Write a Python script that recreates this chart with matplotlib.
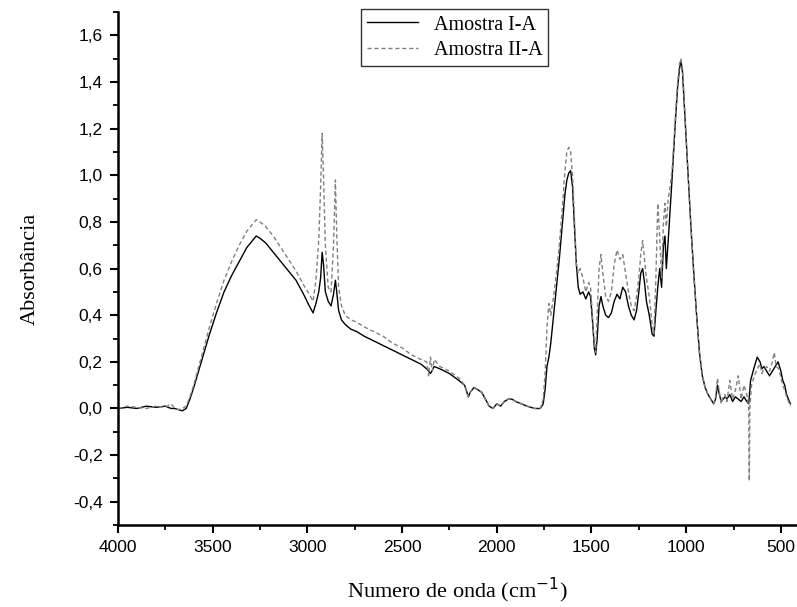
import matplotlib
matplotlib.use("Agg")
import matplotlib.pyplot as plt
from matplotlib.ticker import MultipleLocator, FuncFormatter

# ---------------------------------------------------------- data
wn_I = [4000, 3950, 3900, 3850, 3800, 3750, 3720, 3700, 3680, 3660,
        3640, 3620, 3600, 3560, 3520, 3480, 3440, 3400, 3360, 3320,
        3290, 3270, 3250, 3220, 3180, 3140, 3100, 3060, 3020, 2990,
        2970, 2955, 2940, 2930, 2922, 2915, 2905, 2890, 2875, 2862,
        2852, 2845, 2835, 2820, 2800, 2770, 2740, 2700, 2650, 2600,
        2550, 2500, 2450, 2400, 2370, 2350, 2330, 2300, 2250, 2200,
        2170, 2150, 2140, 2120, 2100, 2080, 2060, 2040, 2020, 2000,
        1980, 1960, 1940, 1920, 1900, 1870, 1840, 1800, 1770, 1755,
        1745, 1735, 1725, 1715, 1700, 1685, 1670, 1655, 1640, 1630,
        1620, 1610, 1600, 1590, 1580, 1570, 1560, 1545, 1530, 1515,
        1505, 1495, 1485, 1478, 1470, 1460, 1450, 1440, 1425, 1410,
        1395, 1380, 1365, 1350, 1335, 1320, 1305, 1290, 1275, 1262,
        1250, 1240, 1230, 1220, 1210, 1195, 1180, 1170, 1160, 1150,
        1140, 1130, 1120, 1112, 1105, 1095, 1085, 1075, 1065, 1055,
        1045, 1035, 1028, 1020, 1010, 1000, 990, 975, 960, 945,
        930, 915, 900, 885, 870, 855, 845, 835, 825, 815,
        805, 795, 785, 770, 755, 740, 725, 710, 695, 680,
        670, 660, 650, 640, 625, 610, 600, 590, 575, 560,
        545, 530, 515, 500, 490, 480, 470, 460, 450]
abs_I = [0.00, 0.005, 0.00, 0.01, 0.005, 0.01, 0.00, 0.00, -0.005, -0.01,
         0.00, 0.04, 0.09, 0.20, 0.31, 0.41, 0.50, 0.57, 0.63, 0.69,
         0.72, 0.74, 0.73, 0.71, 0.67, 0.63, 0.59, 0.55, 0.49, 0.44,
         0.41, 0.45, 0.50, 0.56, 0.67, 0.62, 0.50, 0.46, 0.44, 0.49,
         0.55, 0.50, 0.42, 0.38, 0.36, 0.34, 0.33, 0.31, 0.29, 0.27,
         0.25, 0.23, 0.21, 0.19, 0.17, 0.15, 0.18, 0.17, 0.15, 0.12,
         0.10, 0.05, 0.07, 0.09, 0.08, 0.07, 0.04, 0.01, 0.00, 0.02,
         0.01, 0.03, 0.04, 0.04, 0.03, 0.02, 0.01, 0.00, 0.00, 0.02,
         0.08, 0.18, 0.22, 0.28, 0.40, 0.52, 0.64, 0.78, 0.92, 0.98,
         1.01, 1.02, 0.95, 0.78, 0.62, 0.52, 0.49, 0.50, 0.47, 0.50,
         0.48, 0.38, 0.26, 0.23, 0.30, 0.44, 0.48, 0.44, 0.40, 0.39,
         0.41, 0.46, 0.49, 0.47, 0.52, 0.50, 0.44, 0.40, 0.38, 0.42,
         0.50, 0.58, 0.60, 0.54, 0.46, 0.40, 0.32, 0.31, 0.42, 0.52,
         0.60, 0.52, 0.70, 0.74, 0.60, 0.72, 0.85, 0.98, 1.12, 1.26,
         1.38, 1.46, 1.49, 1.45, 1.30, 1.15, 1.00, 0.78, 0.58, 0.40,
         0.24, 0.14, 0.09, 0.06, 0.04, 0.02, 0.04, 0.10, 0.06, 0.03,
         0.04, 0.05, 0.04, 0.06, 0.03, 0.05, 0.04, 0.03, 0.05, 0.03,
         0.02, 0.12, 0.15, 0.18, 0.22, 0.20, 0.17, 0.18, 0.16, 0.14,
         0.16, 0.18, 0.20, 0.16, 0.12, 0.10, 0.06, 0.04, 0.02]

wn_II = [4000, 3950, 3900, 3850, 3800, 3750, 3720, 3700, 3680, 3660,
         3640, 3620, 3600, 3560, 3520, 3480, 3440, 3400, 3360, 3320,
         3290, 3270, 3250, 3220, 3180, 3140, 3100, 3060, 3020, 2990,
         2970, 2955, 2940, 2930, 2922, 2915, 2905, 2890, 2875, 2862,
         2852, 2845, 2835, 2820, 2800, 2770, 2740, 2700, 2650, 2600,
         2550, 2500, 2450, 2400, 2370, 2360, 2350, 2340, 2330, 2310,
         2300, 2250, 2200, 2170, 2150, 2140, 2120, 2100, 2080, 2060,
         2040, 2020, 2000, 1980, 1960, 1940, 1920, 1900, 1870, 1840,
         1800, 1770, 1755, 1745, 1735, 1725, 1715, 1700, 1685, 1670,
         1655, 1640, 1630, 1620, 1610, 1600, 1590, 1580, 1570, 1560,
         1545, 1530, 1515, 1505, 1495, 1485, 1478, 1470, 1460, 1450,
         1440, 1425, 1410, 1395, 1380, 1365, 1350, 1335, 1320, 1305,
         1290, 1275, 1262, 1250, 1240, 1230, 1220, 1210, 1195, 1180,
         1170, 1160, 1150, 1140, 1130, 1120, 1112, 1105, 1095, 1085,
         1075, 1065, 1055, 1045, 1035, 1028, 1020, 1010, 1000, 990,
         975, 960, 945, 930, 915, 900, 885, 870, 855, 845,
         835, 825, 815, 805, 795, 785, 770, 755, 740, 725,
         710, 695, 680, 670, 667, 664, 655, 640, 625, 610,
         600, 590, 575, 560, 545, 535, 525, 510, 500, 490,
         480, 470, 460, 450]
abs_II = [0.00, 0.01, 0.005, 0.00, 0.01, 0.005, 0.02, 0.00, -0.005, 0.00,
          0.01, 0.05, 0.10, 0.22, 0.34, 0.45, 0.55, 0.63, 0.70, 0.76,
          0.79, 0.81, 0.80, 0.78, 0.74, 0.69, 0.64, 0.59, 0.53, 0.49,
          0.46, 0.55, 0.72, 0.95, 1.18, 1.00, 0.70, 0.52, 0.50, 0.70,
          0.98, 0.75, 0.52, 0.44, 0.40, 0.38, 0.37, 0.35, 0.33, 0.31,
          0.28, 0.26, 0.23, 0.21, 0.20, 0.14, 0.22, 0.16, 0.21, 0.19,
          0.18, 0.16, 0.13, 0.10, 0.05, 0.07, 0.09, 0.08, 0.07, 0.04,
          0.01, 0.00, 0.02, 0.01, 0.03, 0.04, 0.04, 0.03, 0.02, 0.01,
          0.00, 0.00, 0.04, 0.15, 0.35, 0.45, 0.40, 0.48, 0.58, 0.70,
          0.85, 1.02, 1.10, 1.12, 1.10, 1.00, 0.82, 0.62, 0.58, 0.60,
          0.56, 0.50, 0.54, 0.52, 0.40, 0.28, 0.24, 0.40, 0.60, 0.66,
          0.58, 0.48, 0.46, 0.50, 0.62, 0.68, 0.64, 0.66, 0.58, 0.50,
          0.44, 0.42, 0.48, 0.56, 0.66, 0.72, 0.64, 0.56, 0.48, 0.36,
          0.32, 0.56, 0.88, 0.74, 0.56, 0.80, 0.88, 0.78, 0.90, 0.95,
          1.02, 1.14, 1.28, 1.40, 1.48, 1.50, 1.46, 1.32, 1.16, 1.00,
          0.78, 0.58, 0.40, 0.24, 0.14, 0.09, 0.06, 0.04, 0.02, 0.05,
          0.13, 0.07, 0.02, 0.05, 0.06, 0.03, 0.12, 0.04, 0.08, 0.14,
          0.04, 0.10, 0.06, 0.00, -0.31, 0.00, 0.10, 0.14, 0.17, 0.19,
          0.15, 0.17, 0.18, 0.16, 0.20, 0.24, 0.18, 0.17, 0.13, 0.10,
          0.08, 0.05, 0.03, 0.01]

labels = ["Amostra I-A", "Amostra II-A"]
x_ticks = [4000, 3500, 3000, 2500, 2000, 1500, 1000, 500]
y_ticks = [-0.4, -0.2, 0.0, 0.2, 0.4, 0.6, 0.8, 1.0, 1.2, 1.4, 1.6]

# ---------------------------------------------------------- figure
fig = plt.figure(figsize=(7.97, 6.07), dpi=100)
ax = fig.add_axes([0.148, 0.135, 0.852, 0.845])

ax.plot(wn_I, abs_I, color="black", lw=1.0, label=labels[0])
ax.plot(wn_II, abs_II, color="#808080", lw=1.0, ls=(0, (3, 2)), label=labels[1])

ax.set_xlim(4000, 415)
ax.set_ylim(-0.5, 1.7)
ax.set_xticks(x_ticks)
ax.set_yticks(y_ticks)
ax.xaxis.set_minor_locator(MultipleLocator(250))
ax.yaxis.set_minor_locator(MultipleLocator(0.1))
ax.yaxis.set_major_formatter(FuncFormatter(lambda v, _: f"{v:.1f}".replace(".", ",")))

for s in ["top", "right"]:
    ax.spines[s].set_visible(False)
for s in ["left", "bottom"]:
    ax.spines[s].set_linewidth(1.8)

ax.tick_params(which="major", direction="out", length=6, width=1.5,
               labelsize=12.5, labelfontfamily="Liberation Sans", pad=5)
ax.tick_params(which="minor", direction="out", length=3.5, width=1.3)

ax.set_xlabel("Numero de onda (cm$^{-1}$)", family="Liberation Serif", fontsize=16, labelpad=15)
ax.set_ylabel("Absorbância", family="Liberation Serif", fontsize=16, labelpad=24)

leg = ax.legend(loc="upper center", bbox_to_anchor=(0.496, 1.025),
                prop={"family": "Liberation Serif", "size": 14.5},
                frameon=True, fancybox=False, edgecolor="black",
                borderpad=0.3, handlelength=2.5, labelspacing=0.3)
leg.get_frame().set_linewidth(1.0)

fig.savefig("out.png", dpi=100)
